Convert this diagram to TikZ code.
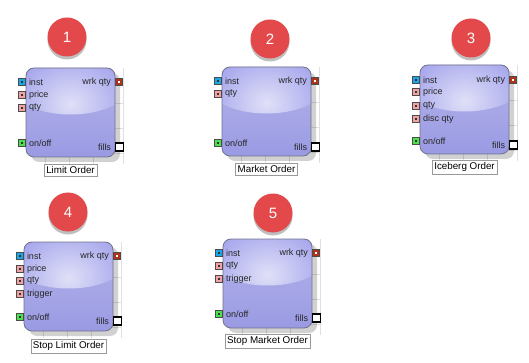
\documentclass[tikz,border=0pt]{standalone}
\usepackage{fontspec}
\setmainfont{Liberation Sans}
\usetikzlibrary{positioning,shadows}

\definecolor{badgeRed}{HTML}{E3494A}
\definecolor{boxTop}{HTML}{B4B4EA}
\definecolor{boxMid}{HTML}{A2A2EC}
\definecolor{boxBot}{HTML}{9A9AE4}
\definecolor{boxGloss}{HTML}{E0E0F8}
\definecolor{boxLine}{HTML}{72728A}
\definecolor{portCyan}{HTML}{1AA7E8}
\definecolor{portPink}{HTML}{F2A2A2}
\definecolor{portGreen}{HTML}{4CE04C}
\definecolor{portRust}{HTML}{B0321A}

\begin{document}
\begin{tikzpicture}[
    x=1pt, y=-1pt,
    node distance=3pt,
    block/.style={draw=boxLine, line width=0.8pt, rectangle, rounded corners=8pt,
        minimum width=89pt, minimum height=89pt,
        top color=boxTop, middle color=boxMid, bottom color=boxBot,
        drop shadow={shadow xshift=5pt, shadow yshift=-5pt, fill=black, opacity=0.18},
        path picture={\shade[inner color=boxGloss, outer color=boxMid]
            ([yshift=30pt]path picture bounding box.center) ellipse (62pt and 32pt);}},
    badge/.style={circle, fill=badgeRed, text=white, minimum size=39pt,
        font=\fontsize{15}{15}\selectfont,
        drop shadow={shadow xshift=0pt, shadow yshift=-3pt, fill=black, opacity=0.25}},
    inPort/.style={draw=black!70, fill=#1, minimum size=7pt, inner sep=0pt, line width=0.6pt,
        path picture={\fill[black!80]
            ([shift={(-1pt,-1pt)}]path picture bounding box.center) rectangle
            ([shift={(1pt,1pt)}]path picture bounding box.center);}},
    outPort/.style={draw=black!70, fill=portRust, minimum size=7pt, inner sep=0pt, line width=0.6pt,
        path picture={\fill[white]
            ([shift={(-1pt,-1pt)}]path picture bounding box.center) rectangle
            ([shift={(1pt,1pt)}]path picture bounding box.center);}},
    fillsPort/.style={draw=black, fill=white, minimum size=8pt, inner sep=0pt, line width=1.6pt},
    pin/.style={font=\fontsize{9}{9}\selectfont, text=black!85, inner sep=0.5pt},
    caption/.style={draw=black!40, fill=white, inner sep=2pt,
        font=\fontsize{9.8}{10}\selectfont},
    gridLine/.style={black!12, line width=0.5pt},
]

\useasboundingbox (0,0) rectangle (529,363);

%----------------------------------
% Limit order
%----------------------------------

\begin{scope}[shift={(26,68)}]

\foreach \gx in {19,43,67,97} \draw[gridLine] (\gx,0) -- (\gx,96);
\foreach \gy in {11,35,60,85} \draw[gridLine] (0,\gy) -- (98,\gy);

\node[block] (limBox) at (44.5,44.5) {};
\node[badge] (limBadge) at (41,-31) {1};

\node[inPort=portCyan] (limInst) at (-4.5,14) {};
\node[inPort=portPink] (limPrice) at (-4.5,27) {};
\node[inPort=portPink] (limQty) at (-4.5,40) {};
\node[inPort=portGreen] (limOnOff) at (-4.5,75) {};
\node[outPort] (limWrk) at (92.5,14) {};
\node[fillsPort] (limFills) at (93.5,79) {};

\node[pin,right=of limInst] (limInstTxt) {inst};
\node[pin,right=of limPrice] (limPriceTxt) {price};
\node[pin,right=of limQty] (limQtyTxt) {qty};
\node[pin,right=of limOnOff] (limOnOffTxt) {on/off};
\node[pin,left=of limWrk] (limWrkTxt) {wrk qty};
\node[pin,left=of limFills] (limFillsTxt) {fills};

\node[caption,below=7pt of limBox] (limCaption) {Limit Order};

\end{scope}

%----------------------------------
% Market order
%----------------------------------

\begin{scope}[shift={(222,67)}]

\foreach \gx in {19,43,67,97} \draw[gridLine] (\gx,0) -- (\gx,96);
\foreach \gy in {11,35,60,85} \draw[gridLine] (0,\gy) -- (98,\gy);

\node[block] (mktBox) at (44.5,44.5) {};
\node[badge] (mktBadge) at (48,-28) {2};

\node[inPort=portCyan] (mktInst) at (-4.5,14) {};
\node[inPort=portPink] (mktQty) at (-4.5,27) {};
\node[inPort=portGreen] (mktOnOff) at (-4.5,76) {};
\node[outPort] (mktWrk) at (92.5,14) {};
\node[fillsPort] (mktFills) at (93.5,80) {};

\node[pin,right=of mktInst] (mktInstTxt) {inst};
\node[pin,right=of mktQty] (mktQtyTxt) {qty};
\node[pin,right=of mktOnOff] (mktOnOffTxt) {on/off};
\node[pin,left=of mktWrk] (mktWrkTxt) {wrk qty};
\node[pin,left=of mktFills] (mktFillsTxt) {fills};

\node[caption,below=7pt of mktBox] (mktCaption) {Market Order};

\end{scope}

%----------------------------------
% Iceberg order
%----------------------------------

\begin{scope}[shift={(420,65)}]

\foreach \gx in {19,43,67,97} \draw[gridLine] (\gx,0) -- (\gx,96);
\foreach \gy in {11,35,60,85} \draw[gridLine] (0,\gy) -- (98,\gy);

\node[block] (iceBox) at (44.5,44.5) {};
\node[badge] (iceBadge) at (51,-27) {3};

\node[inPort=portCyan] (iceInst) at (-4.5,15) {};
\node[inPort=portPink] (icePrice) at (-4.5,27) {};
\node[inPort=portPink] (iceQty) at (-4.5,41) {};
\node[inPort=portPink] (iceDisc) at (-4.5,54) {};
\node[inPort=portGreen] (iceOnOff) at (-4.5,76) {};
\node[outPort] (iceWrk) at (92.5,15) {};
\node[fillsPort] (iceFills) at (93.5,80) {};

\node[pin,right=of iceInst] (iceInstTxt) {inst};
\node[pin,right=of icePrice] (icePriceTxt) {price};
\node[pin,right=of iceQty] (iceQtyTxt) {qty};
\node[pin,right=of iceDisc] (iceDiscTxt) {disc qty};
\node[pin,right=of iceOnOff] (iceOnOffTxt) {on/off};
\node[pin,left=of iceWrk] (iceWrkTxt) {wrk qty};
\node[pin,left=of iceFills] (iceFillsTxt) {fills};

\node[caption,below=6pt of iceBox] (iceCaption) {Iceberg Order};

\end{scope}

%----------------------------------
% Stop limit order
%----------------------------------

\begin{scope}[shift={(24,242)}]

\foreach \gx in {19,43,67,97} \draw[gridLine] (\gx,0) -- (\gx,96);
\foreach \gy in {11,35,60,85} \draw[gridLine] (0,\gy) -- (98,\gy);

\node[block] (slBox) at (44.5,44.5) {};
\node[badge] (slBadge) at (44,-30) {4};

\node[inPort=portCyan] (slInst) at (-4.5,14) {};
\node[inPort=portPink] (slPrice) at (-4.5,27) {};
\node[inPort=portPink] (slQty) at (-4.5,39) {};
\node[inPort=portPink] (slTrig) at (-4.5,52) {};
\node[inPort=portGreen] (slOnOff) at (-4.5,75) {};
\node[outPort] (slWrk) at (92.5,14) {};
\node[fillsPort] (slFills) at (93.5,79) {};

\node[pin,right=of slInst] (slInstTxt) {inst};
\node[pin,right=of slPrice] (slPriceTxt) {price};
\node[pin,right=of slQty] (slQtyTxt) {qty};
\node[pin,right=of slTrig] (slTrigTxt) {trigger};
\node[pin,right=of slOnOff] (slOnOffTxt) {on/off};
\node[pin,left=of slWrk] (slWrkTxt) {wrk qty};
\node[pin,left=of slFills] (slFillsTxt) {fills};

\node[caption,below=8pt of slBox] (slCaption) {Stop Limit Order};

\end{scope}

%----------------------------------
% Stop market order
%----------------------------------

\begin{scope}[shift={(223,239)}]

\foreach \gx in {19,43,67,97} \draw[gridLine] (\gx,0) -- (\gx,96);
\foreach \gy in {11,35,60,85} \draw[gridLine] (0,\gy) -- (98,\gy);

\node[block] (smBox) at (44.5,44.5) {};
\node[badge] (smBadge) at (50,-26) {5};

\node[inPort=portCyan] (smInst) at (-4.5,14) {};
\node[inPort=portPink] (smQty) at (-4.5,27) {};
\node[inPort=portPink] (smTrig) at (-4.5,40) {};
\node[inPort=portGreen] (smOnOff) at (-4.5,75) {};
\node[outPort] (smWrk) at (92.5,14) {};
\node[fillsPort] (smFills) at (93.5,79) {};

\node[pin,right=of smInst] (smInstTxt) {inst};
\node[pin,right=of smQty] (smQtyTxt) {qty};
\node[pin,right=of smTrig] (smTrigTxt) {trigger};
\node[pin,right=of smOnOff] (smOnOffTxt) {on/off};
\node[pin,left=of smWrk] (smWrkTxt) {wrk qty};
\node[pin,left=of smFills] (smFillsTxt) {fills};

\node[caption,below=6pt of smBox] (smCaption) {Stop Market Order};

\end{scope}

\end{tikzpicture}
\end{document}
